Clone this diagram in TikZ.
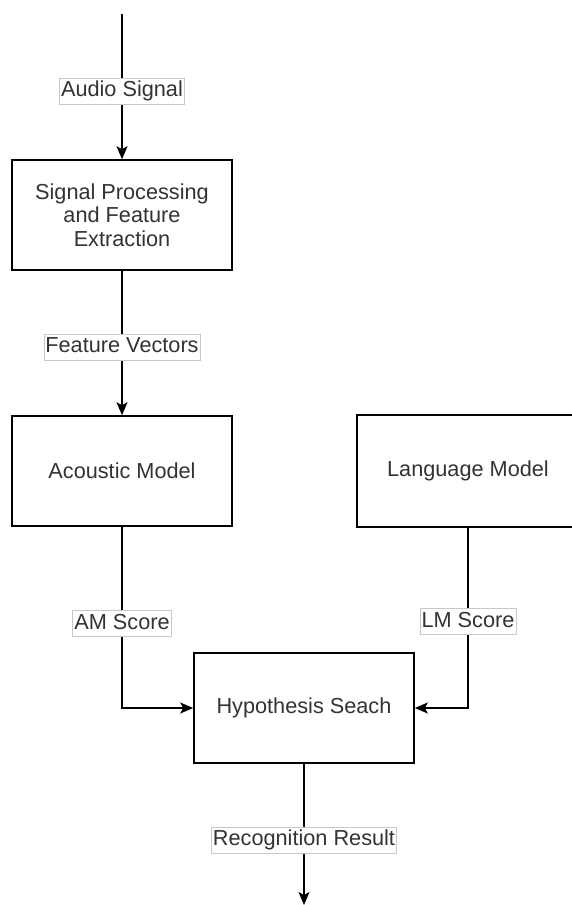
\documentclass[tikz,border=0pt]{standalone}
\usepackage{fontspec}
\setmainfont{Liberation Sans}
\usepackage{tikz}
\usetikzlibrary{arrows.meta}
\usepackage{xcolor}
\definecolor{txtgray}{HTML}{333333}
\definecolor{lblborder}{HTML}{C8C8C8}

\tikzset{
    block/.style={draw=black, line width=1.6pt, fill=white, minimum width=220pt,
        minimum height=110pt, align=center, text=txtgray, inner sep=0pt,
        font=\fontsize{21.7}{23.5}\selectfont},
    lbl/.style={draw=lblborder, line width=0.8pt, fill=white, text=txtgray,
        inner xsep=1.5pt, inner ysep=3pt, text height=15.5pt, text depth=4.5pt,
        font=\fontsize{21.7}{23.5}\selectfont},
    flow/.style={line width=1.5pt, -{Stealth[length=13pt, width=11pt, inset=3pt]}}
}

\begin{document}
\begin{tikzpicture}[x=1pt, y=-1pt]

    \useasboundingbox (0, 0) rectangle (571, 905);

    % Coordinates for the free ends
    \coordinate (In)  at (122, 14);   % audio input
    \coordinate (Out) at (304, 905);  % recognition output

    % The processing blocks
    \node[block] (SigProc)  at (122, 215) {Signal Processing\\and Feature\\Extraction};
    \node[block] (Acoustic) at (122, 471) {Acoustic Model};
    \node[block, draw=none] (Language) at (468, 471) {Language Model};
    \node[block] (Hypo)     at (304, 708) {Hypothesis Seach};

    % Language box runs off the right edge
    \draw[line width=1.6pt] (Language.south west) rectangle ([xshift=40pt]Language.north east);

    % Connectors with their labels
    \draw[flow] (In) -- node[lbl, pos=0.53] (AudioLbl) {Audio Signal} (SigProc);
    \draw[flow] (SigProc) -- node[lbl, pos=0.53] (FeatLbl) {Feature Vectors} (Acoustic);
    \draw[flow] (Acoustic) |- node[lbl, pos=0.267] (AMLbl) {AM Score} (Hypo);
    \draw[flow] (Language) |- node[lbl, pos=0.262] (LMLbl) {LM Score} (Hypo);
    \draw[flow] (Hypo) -- node[lbl, pos=0.54] (ResLbl) {Recognition Result} (Out);

\end{tikzpicture}
\end{document}
